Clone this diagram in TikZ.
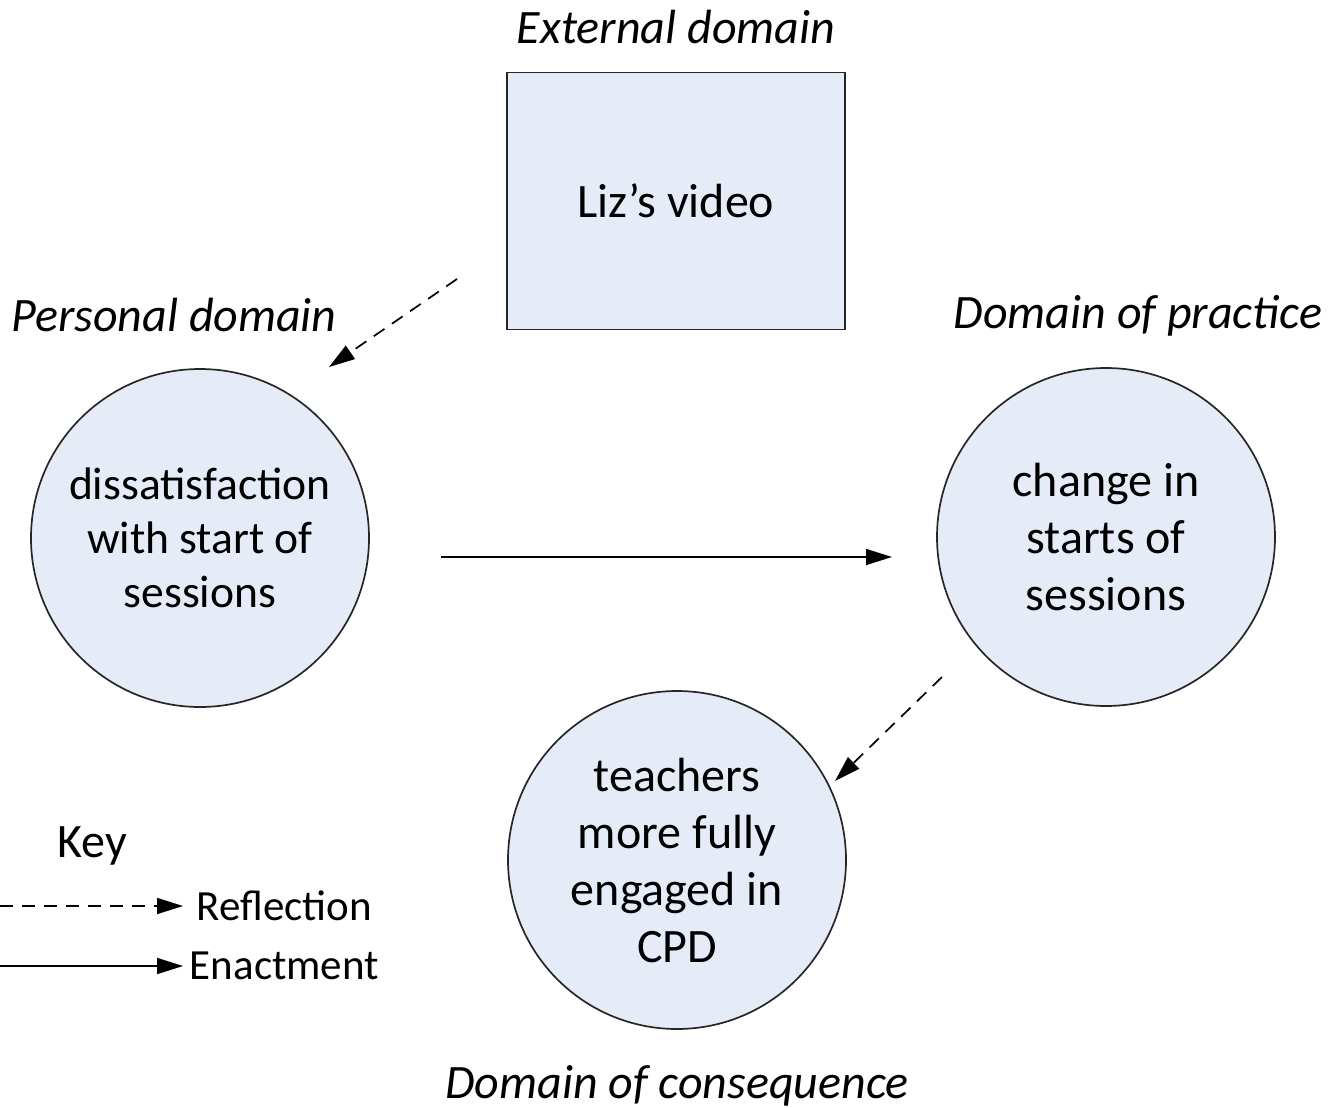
\documentclass[tikz,border=0pt]{standalone}
\usepackage{fontspec}
\setmainfont{Carlito}
\usetikzlibrary{positioning,arrows.meta}

\definecolor{paleblue}{RGB}{230,236,247}

\tikzset{
	domaincircle/.style={circle, draw=black!85, fill=paleblue, minimum size=169pt, inner sep=0pt, align=center, font=\fontsize{24}{28.5}\selectfont},
	videobox/.style={rectangle, draw=black!85, fill=paleblue, minimum width=169pt, minimum height=128.5pt, font=\fontsize{24}{28.5}\selectfont},
	domainlabel/.style={font=\fontsize{24}{28.5}\selectfont\itshape},
	keytext/.style={font=\fontsize{21.5}{25}\selectfont, anchor=west, inner sep=3pt},
	reflectarrow/.style={-{Triangle[length=13pt,width=8pt]}, dash pattern=on 6.5pt off 4.5pt},
	enactarrow/.style={-{Triangle[length=13pt,width=8pt]}}
}

\begin{document}
\begin{tikzpicture}[x=0.5pt, y=-0.5pt, line width=0.85pt, node distance=2cm, on grid]
	\useasboundingbox (0,0) rectangle (1328,1108);

	\node[videobox] (video) at (676,201) {Liz’s video};
	\node[domaincircle, font=\fontsize{22.8}{27}\selectfont] (personal) at (200,538) {dissatisfaction\\with start of\\sessions};
	\node[domaincircle] (practice) at (1106,537) {change in\\starts of\\sessions};
	\node[domaincircle] (consequence) at (677,860) {teachers\\more fully\\engaged in\\CPD};

	\node[domainlabel] (external) [above=87pt of video] {External domain};
	\node[domainlabel] (personallabel) at (174,315) {Personal domain};
	\node[domainlabel] (practicelabel) at (1138,316) {Domain of practice};
	\node[domainlabel] (consequencelabel) [below=113pt of consequence] {Domain of consequence};

	% free ends of the connectors
	\coordinate (r1s) at (457,279);
	\coordinate (r1e) at (329,367);
	\coordinate (e1s) at (441,557);
	\coordinate (e1e) at (892,557);
	\coordinate (r2s) at (942,677);
	\coordinate (r2e) at (835,781);

	\draw[reflectarrow] (r1s) -- (r1e);
	\draw[enactarrow] (e1s) -- (e1e);
	\draw[reflectarrow] (r2s) -- (r2e);

	% key
	\node[font=\fontsize{24}{28.5}\selectfont] (key) at (92,846) {Key};
	\coordinate (k1) at (0,906);
	\coordinate (k2) at (0,966);
	\node[keytext, inner xsep=6.5pt] (reflection) at (183,906) {Reflection};
	\node[keytext] (enactment) at (183,966) {Enactment};
	\draw[reflectarrow] (k1) -- (reflection);
	\draw[enactarrow] (k2) -- (enactment);
\end{tikzpicture}
\end{document}
